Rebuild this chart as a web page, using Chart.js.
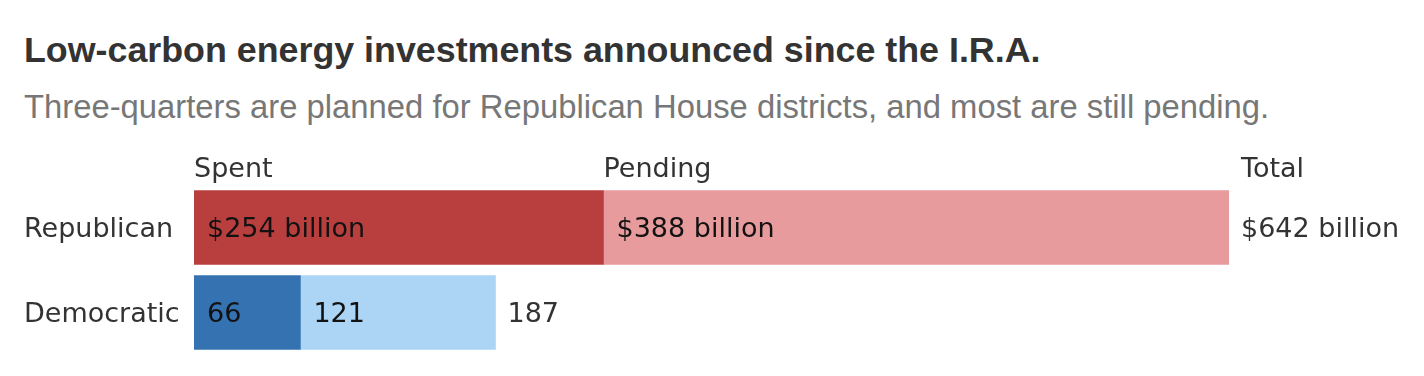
<!DOCTYPE html>
<html>
<head>
<meta charset="utf-8">
<script src="https://cdn.jsdelivr.net/npm/chart.js@4"></script>
<style>
  body { margin: 0; background: #fff; width: 1424px; height: 376px; position: relative; overflow: hidden; }
  #title { position: absolute; left: 24px; top: 32px; font: bold 35.8px "Liberation Sans", sans-serif; color: #333; line-height: 36px; white-space: nowrap; }
  #subtitle { position: absolute; left: 24px; top: 90px; font: 32.8px "Liberation Sans", sans-serif; color: #777; line-height: 33px; white-space: nowrap; }
  #wrap { position: absolute; left: 0; top: 140px; width: 1424px; height: 220px; }
</style>
</head>
<body>
<div id="title">Low-carbon energy investments announced since the I.R.A.</div>
<div id="subtitle">Three-quarters are planned for Republican House districts, and most are still pending.</div>
<div id="wrap"><canvas id="chart" width="1424" height="220"></canvas></div>
<script>
// data
var parties = ["Republican", "Democratic"];
var spent = [254, 66];
var pending = [388, 121];
var totals = [642, 187];
var headers = ["Spent", "Pending", "Total"];
var spentColors = ["#b83f3d", "#3572b1"];
var pendingColors = ["#e89b9c", "#acd5f5"];

var LABEL_FONT = '27px "DejaVu Sans", sans-serif';

function fmt(v, i) {
  // first row gets the unit, the rest are plain numbers
  return i === 0 ? "$" + v + " billion" : "" + v;
}

// draws the numbers inside bars, the totals and the column heads
var labelsPlugin = {
  id: "barLabels",
  afterDatasetsDraw: function(chart) {
    var ctx = chart.ctx;
    var m0 = chart.getDatasetMeta(0);
    var m1 = chart.getDatasetMeta(1);
    ctx.save();
    ctx.font = LABEL_FONT;
    ctx.textBaseline = "alphabetic";
    ctx.textAlign = "left";
    for (var i = 0; i < parties.length; i++) {
      var a = m0.data[i], b = m1.data[i];
      ctx.fillStyle = "#121212";
      ctx.fillText(fmt(spent[i], i), a.base + 13, a.y + 9);
      ctx.fillText(fmt(pending[i], i), b.base + 13, b.y + 9);
      ctx.fillStyle = "#333";
      ctx.fillText(fmt(totals[i], i), b.x + 12, b.y + 9);
    }
    // column heads above first row
    var r0 = m0.data[0], r1 = m1.data[0];
    var hy = chart.chartArea.top - 8;
    ctx.fillStyle = "#333";
    ctx.fillText(headers[0], r0.base, hy);
    ctx.fillText(headers[1], r1.base, hy);
    ctx.fillText(headers[2], r1.x + 12, hy);
    ctx.restore();
  }
};

var ctx = document.getElementById("chart");
var myChart = new Chart(ctx, {
  type: "bar",
  data: {
    labels: parties,
    datasets: [
      { label: "Spent", data: spent, backgroundColor: spentColors, barThickness: 74 },
      { label: "Pending", data: pending, backgroundColor: pendingColors, barThickness: 74 }
    ]
  },
  options: {
    indexAxis: "y",
    responsive: false,
    animation: false,
    layout: { padding: { left: 24, right: 195, top: 45, bottom: 5 } },
    plugins: { legend: { display: false }, tooltip: { enabled: false } },
    scales: {
      x: { stacked: true, min: 0, max: 642, display: false },
      y: {
        stacked: true,
        grid: { display: false },
        border: { display: false },
        ticks: { crossAlign: "far", labelOffset: 2, color: "#333", font: { family: "DejaVu Sans", size: 27 } },
        afterFit: function(scale) {
          scale.width = 170;
          scale.paddingTop = 0;
          scale.paddingBottom = 0;
        }
      }
    }
  },
  plugins: [labelsPlugin]
});
</script>
</body>
</html>
